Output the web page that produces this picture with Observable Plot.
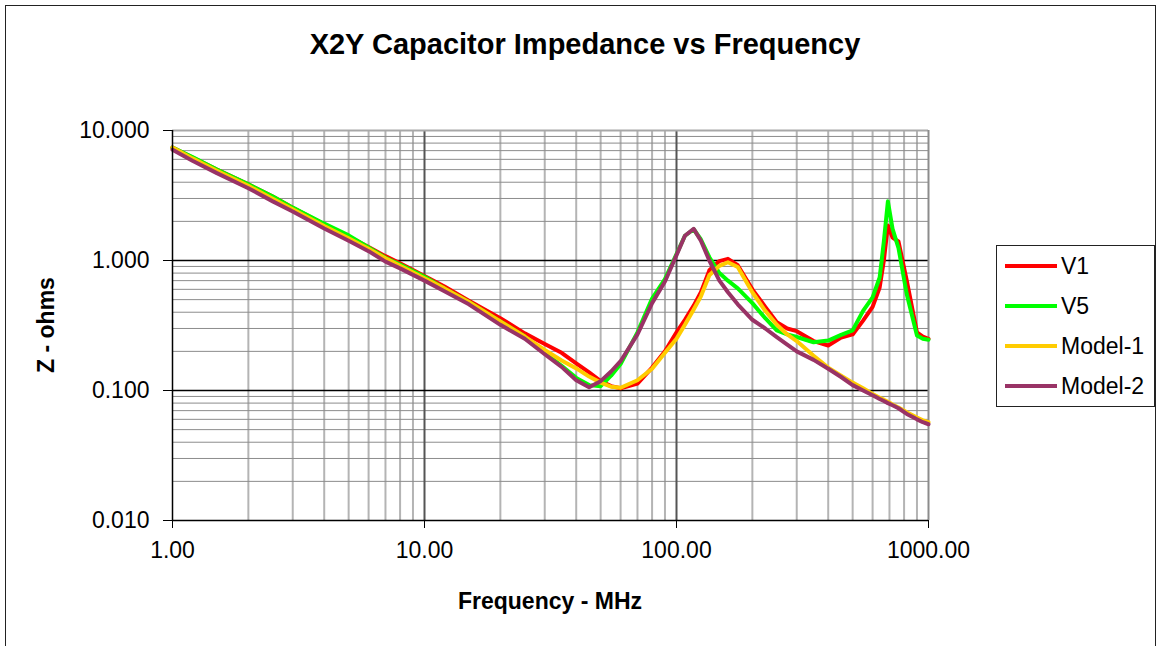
<!DOCTYPE html>
<html><head><meta charset="utf-8">
<script src="https://cdn.jsdelivr.net/npm/d3@7"></script>
<script src="https://cdn.jsdelivr.net/npm/@observablehq/plot@0.6"></script>
<style>
body{margin:0;background:#fff;overflow:hidden;font-family:"Liberation Sans",Arial,sans-serif;}
#wrap{position:relative;width:1159px;height:646px;overflow:hidden;background:#fff;}
#frame{position:absolute;left:5px;top:5px;width:1151px;height:720px;border:1px solid #222;box-sizing:border-box;}
#chart{position:absolute;left:0;top:0;}
.t{position:absolute;color:#000;white-space:nowrap;}
#title{left:585px;top:28px;transform:translateX(-50%);font-size:29px;font-weight:bold;}
#xlabel{left:550px;top:588px;transform:translateX(-50%);font-size:23px;font-weight:bold;}
#ylabel{left:46px;top:325px;transform:translate(-50%,-50%) rotate(-90deg);font-size:23px;font-weight:bold;}
#legend{position:absolute;left:996px;top:245px;width:159px;height:162px;border:1px solid #222;box-sizing:border-box;background:#fff;}
.li{position:absolute;left:0;height:30px;width:158px;}
.sw{position:absolute;left:8px;top:13px;width:52px;height:4px;}
.lt{position:absolute;left:64px;top:1px;font-size:23px;line-height:28px;}
</style></head>
<body>
<div id="wrap">
  <div id="chart"></div>
  <div id="frame"></div>
  <div class="t" id="title">X2Y Capacitor Impedance vs Frequency</div>
  <div class="t" id="xlabel">Frequency - MHz</div>
  <div class="t" id="ylabel">Z - ohms</div>
  <div id="legend"></div>
</div>
<script>
const freq = [1, 1.2, 1.5, 2, 2.5, 3, 4, 5, 6, 7, 8, 10, 12, 15, 20, 25, 30, 35, 40, 45, 50, 55, 60, 70, 80, 90, 100, 108, 117, 125, 135, 148, 160, 175, 200, 225, 250, 275, 300, 350, 400, 450, 500, 550, 600, 640, 665, 690, 720, 760, 820, 900, 950, 1000];
const v1 = [7.4, 6.2, 5.0, 3.85, 3.1, 2.55, 1.9, 1.53, 1.27, 1.08, 0.95, 0.76, 0.63, 0.49, 0.36, 0.275, 0.228, 0.195, 0.162, 0.138, 0.118, 0.108, 0.104, 0.113, 0.15, 0.20, 0.28, 0.35, 0.45, 0.57, 0.84, 0.99, 1.03, 0.92, 0.60, 0.44, 0.335, 0.30, 0.286, 0.24, 0.222, 0.255, 0.27, 0.345, 0.44, 0.62, 1.0, 1.86, 1.50, 1.40, 0.70, 0.28, 0.26, 0.25];
const v5 = [7.4, 6.25, 5.0, 3.85, 3.1, 2.55, 1.92, 1.56, 1.26, 1.05, 0.93, 0.75, 0.61, 0.48, 0.34, 0.26, 0.195, 0.155, 0.125, 0.11, 0.108, 0.13, 0.16, 0.28, 0.51, 0.72, 1.12, 1.55, 1.74, 1.45, 1.06, 0.80, 0.70, 0.61, 0.47, 0.36, 0.29, 0.27, 0.258, 0.235, 0.242, 0.268, 0.29, 0.41, 0.52, 0.74, 1.4, 2.85, 1.75, 1.25, 0.55, 0.265, 0.25, 0.246];
const model1 = [7.4, 6.1, 4.9, 3.75, 2.98, 2.48, 1.84, 1.48, 1.23, 1.04, 0.91, 0.73, 0.61, 0.48, 0.34, 0.26, 0.205, 0.17, 0.148, 0.128, 0.115, 0.107, 0.105, 0.12, 0.147, 0.195, 0.25, 0.32, 0.42, 0.53, 0.77, 0.91, 0.97, 0.89, 0.57, 0.41, 0.32, 0.27, 0.24, 0.185, 0.15, 0.13, 0.115, 0.104, 0.094, 0.088, 0.085, 0.082, 0.078, 0.074, 0.068, 0.062, 0.059, 0.057];
const model2 = [7.1, 5.85, 4.7, 3.6, 2.85, 2.38, 1.76, 1.42, 1.18, 0.98, 0.87, 0.70, 0.58, 0.46, 0.32, 0.25, 0.19, 0.152, 0.12, 0.106, 0.118, 0.14, 0.168, 0.27, 0.47, 0.69, 1.1, 1.55, 1.75, 1.42, 1.0, 0.70, 0.57, 0.46, 0.35, 0.30, 0.257, 0.225, 0.20, 0.172, 0.147, 0.127, 0.11, 0.10, 0.092, 0.086, 0.083, 0.080, 0.077, 0.073, 0.066, 0.060, 0.057, 0.055];

const seriesNames = ["V1", "V5", "Model-1", "Model-2"];
const seriesColors = ["#FF0000", "#00FF00", "#FFCC00", "#993366"];
const xTicks = [1, 10, 100, 1000];
const yTicks = [0.01, 0.1, 1, 10];
const minorSteps = [2, 3, 4, 5, 6, 7, 8, 9];

const seriesValues = [v1, v5, model1, model2];
const data = seriesNames.flatMap((name, i) => freq.map((f, j) => ({f, z: seriesValues[i][j], name})));
const xMinor = xTicks.slice(0, 3).flatMap(d => minorSteps.map(m => d * m));
const yMinor = yTicks.slice(0, 3).flatMap(d => minorSteps.map(m => d * m));

const chart = Plot.plot({
  width: 1159, height: 646,
  marginLeft: 172, marginRight: 231, marginTop: 130, marginBottom: 126,
  style: {fontFamily: "Liberation Sans, Arial, sans-serif", fontSize: "23px", color: "#000", background: "transparent", overflow: "visible"},
  x: {type: "log", domain: [1, 1000], ticks: xTicks, tickFormat: d => d.toFixed(2), tickSize: 8, tickPadding: 13, label: null},
  y: {type: "log", domain: [0.01, 10], ticks: yTicks, tickFormat: d => d.toFixed(3), tickSize: 9, tickPadding: 14, label: null},
  color: {domain: seriesNames, range: seriesColors},
  marks: [
    Plot.ruleX(xMinor, {stroke: "#b4b4b4", strokeWidth: 2}),
    Plot.ruleY(yMinor, {stroke: "#8c8c8c", strokeWidth: 1}),
    Plot.ruleX([10, 100], {stroke: "#555", strokeWidth: 2}),
    Plot.ruleY([0.1, 1], {stroke: "#000", strokeWidth: 1.5}),
    Plot.ruleY([10], {stroke: "#a8a8a8", strokeWidth: 2}),
    Plot.ruleX([1000], {stroke: "#8c8c8c", strokeWidth: 2}),
    Plot.line(data, {x: "f", y: "z", z: "name", stroke: "name", strokeWidth: 4, strokeLinejoin: "round", strokeLinecap: "round"}),
    Plot.ruleX([1], {stroke: "#000", strokeWidth: 1.5}),
    Plot.ruleY([0.01], {stroke: "#000", strokeWidth: 1.5})
  ]
});
document.getElementById("chart").appendChild(chart);

const legend = document.getElementById("legend");
seriesNames.forEach((name, i) => {
  const item = document.createElement("div");
  item.className = "li";
  item.style.top = (5 + i * 40) + "px";
  item.innerHTML = `<div class="sw" style="background:${seriesColors[i]}"></div><div class="lt">${name}</div>`;
  legend.appendChild(item);
});
</script>
</body></html>
